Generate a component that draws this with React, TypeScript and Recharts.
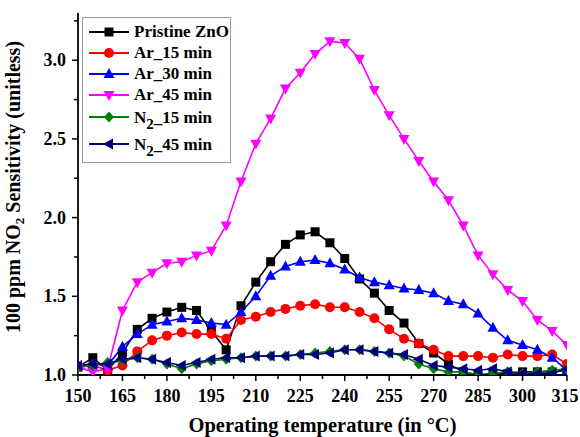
import React from "react";
import {Label, Legend, Line, LineChart, XAxis, YAxis} from "recharts";

// operating temperature (°C)
const temps = [150, 155, 160, 165, 170, 175, 180, 185, 190, 195, 200, 205, 210, 215, 220, 225, 230,
	235, 240, 245, 250, 255, 260, 265, 270, 275, 280, 285, 290, 295, 300, 305, 310, 315];

const pristine = [1.05, 1.11, 1.03, 1.14, 1.29, 1.36, 1.40, 1.43, 1.41, 1.28, 1.16, 1.44, 1.59, 1.72, 1.83, 1.89, 1.91,
	1.84, 1.74, 1.61, 1.52, 1.41, 1.33, 1.20, 1.14, 1.07, 1.02, 1.00, 1.01, 1.01, 1.02, 1.02, 1.02, 1.03];
const ar15 = [1.05, 1.06, 1.03, 1.06, 1.15, 1.22, 1.25, 1.27, 1.26, 1.26, 1.23, 1.35, 1.37, 1.40, 1.42, 1.44, 1.45,
	1.43, 1.43, 1.40, 1.36, 1.29, 1.23, 1.20, 1.16, 1.12, 1.12, 1.12, 1.11, 1.13, 1.12, 1.12, 1.13, 1.07];
const ar30 = [1.06, 1.07, 1.06, 1.18, 1.26, 1.32, 1.34, 1.36, 1.35, 1.33, 1.32, 1.40, 1.50, 1.63, 1.69, 1.72, 1.73,
	1.71, 1.67, 1.62, 1.59, 1.57, 1.55, 1.54, 1.52, 1.47, 1.45, 1.39, 1.30, 1.22, 1.19, 1.16, 1.11, 1.03];
const ar45 = [1.05, 1.02, 1.04, 1.41, 1.59, 1.65, 1.71, 1.72, 1.76, 1.79, 1.95, 2.23, 2.47, 2.63, 2.82, 2.92, 3.04,
	3.12, 3.11, 3.01, 2.81, 2.65, 2.50, 2.36, 2.23, 2.11, 1.95, 1.76, 1.64, 1.54, 1.47, 1.35, 1.28, 1.19];
const n2_15 = [1.05, 1.06, 1.08, 1.09, 1.11, 1.10, 1.07, 1.04, 1.07, 1.09, 1.10, 1.11, 1.12, 1.12, 1.12, 1.13, 1.14,
	1.15, 1.16, 1.16, 1.15, 1.14, 1.12, 1.07, 1.04, 1.02, 1.02, 1.00, 1.01, 1.02, 1.01, 1.02, 1.03, 1.04];
const n2_45 = [1.06, 1.07, 1.07, 1.10, 1.11, 1.10, 1.08, 1.06, 1.08, 1.10, 1.11, 1.11, 1.12, 1.12, 1.12, 1.13, 1.13,
	1.14, 1.16, 1.16, 1.15, 1.14, 1.13, 1.10, 1.06, 1.05, 1.04, 1.03, 1.04, 1.02, 1.01, 1.01, 1.01, 1.04];

const xTicks = [150, 157.5, 165, 172.5, 180, 187.5, 195, 202.5, 210, 217.5, 225, 232.5, 240, 247.5, 255, 262.5,
	270, 277.5, 285, 292.5, 300, 307.5, 315];
const yTicks = [1.0, 1.25, 1.5, 1.75, 2.0, 2.25, 2.5, 2.75, 3.0, 3.25];

const series = [
	{key: "pristine", name: "Pristine ZnO", color: "#000000", shape: "square", values: pristine},
	{key: "ar15", name: "Ar_15 min", color: "#ff0000", shape: "circle", values: ar15},
	{key: "ar30", name: "Ar_30 min", color: "#0000ff", shape: "up", values: ar30},
	{key: "ar45", name: "Ar_45 min", color: "#ff00ff", shape: "down", values: ar45},
	{key: "n2_15", name: "N2_15 min", color: "#008000", shape: "diamond", values: n2_15},
	{key: "n2_45", name: "N2_45 min", color: "#000080", shape: "left", values: n2_45},
];

const data = temps.map((t, i) => {
	const row: any = {temp: t};
	series.forEach(s => {
		row[s.key] = s.values[i];
	});
	return row;
});

const FONT = "'Liberation Serif', 'Times New Roman', serif";

const marker = (shape: string, color: string, cx: number, cy: number, key?: any) => {
	switch (shape) {
		case "square":
			return <rect key={key} x={cx - 4.5} y={cy - 4.5} width={9} height={9} fill={color}/>;
		case "circle":
			return <circle key={key} cx={cx} cy={cy} r={5} fill={color}/>;
		case "up":
			return <polygon key={key} points={`${cx},${cy - 6} ${cx - 5.5},${cy + 4} ${cx + 5.5},${cy + 4}`} fill={color}/>;
		case "down":
			return <polygon key={key} points={`${cx},${cy + 6} ${cx - 5.5},${cy - 4} ${cx + 5.5},${cy - 4}`} fill={color}/>;
		case "diamond":
			return <polygon key={key} points={`${cx},${cy - 5.5} ${cx + 5},${cy} ${cx},${cy + 5.5} ${cx - 5},${cy}`} fill={color}/>;
		default:
			return <polygon key={key} points={`${cx - 6},${cy} ${cx + 4},${cy - 5.5} ${cx + 4},${cy + 5.5}`} fill={color}/>;
	}
};

const makeDot = (shape: string, color: string) => (props: any) => {
	const {cx, cy, index} = props;
	if (cx == null || cy == null) return <g key={index}/>;
	return marker(shape, color, cx, cy, index);
};

const XTick = (props: any) => {
	const {x, y, payload} = props;
	const major = (payload.value - 150) % 15 === 0;
	// last label sits against the frame edge, nudge it in a little
	const dx = payload.value === 315 ? -2 : 0;
	return (
		<g>
			<line x1={x} x2={x} y1={y} y2={y + (major ? 6 : 4)} stroke="#000" strokeWidth={1.5}/>
			{major && (
				<text x={x + dx} y={y + 27} textAnchor="middle" fontFamily={FONT} fontWeight="bold" fontSize={18} fill="#000">
					{payload.value}
				</text>
			)}
		</g>
	);
};

const YTick = (props: any) => {
	const {x, y, payload} = props;
	const major = Math.abs(payload.value * 2 - Math.round(payload.value * 2)) < 1e-6;
	return (
		<g>
			<line x1={x} x2={x - (major ? 6 : 4)} y1={y} y2={y} stroke="#000" strokeWidth={1.5}/>
			{major && (
				<text x={x - 12} y={y + 6} textAnchor="end" fontFamily={FONT} fontWeight="bold" fontSize={18} fill="#000">
					{payload.value.toFixed(1)}
				</text>
			)}
		</g>
	);
};

const legendHeights = [21, 21, 21, 21, 24, 30];

const LegendBox = () => (
	<div style={{
		border: "1px solid #999",
		width: 147,
		height: 141,
		boxSizing: "content-box",
		paddingTop: 3,
		background: "#fff",
		fontFamily: FONT,
		fontWeight: "bold",
		fontSize: 17,
		color: "#000",
	}}>
		{series.map((s, i) => (
			<div key={s.key} style={{height: legendHeights[i], display: "flex", alignItems: "center", paddingLeft: 6}}>
				<svg width={40} height={14} style={{flex: "none"}}>
					<line x1={0} x2={40} y1={7} y2={7} stroke={s.color} strokeWidth={1.8}/>
					{marker(s.shape, s.color, 20, 7)}
				</svg>
				<span style={{marginLeft: 5, whiteSpace: "nowrap", lineHeight: "17px"}}>
					{s.name.startsWith("N2") ? (
						<>N<sub style={{fontSize: 15, verticalAlign: "-6px", lineHeight: 0}}>2</sub>{s.name.slice(2)}</>
					) : s.name}
				</span>
			</div>
		))}
	</div>
);

const App = () => {
	return (
		<div style={{position: "absolute", left: 0, top: 0, width: 580, height: 437}}>
			<LineChart width={580} height={437} data={data} margin={{top: 13, right: 13, left: 0, bottom: 0}}>
				<XAxis dataKey="temp" type="number" domain={[150, 315]} ticks={xTicks} interval={0}
					   height={62} tickSize={0} tickMargin={0} tick={<XTick/>} tickLine={false}
					   axisLine={{stroke: "#000", strokeWidth: 1.8}} allowDataOverflow>
					<Label content={() => (
						<text x={322.5} y={432} textAnchor="middle" fontFamily={FONT} fontWeight="bold" fontSize={20.5} fill="#000">
							Operating temperature (in °C)
						</text>
					)}/>
				</XAxis>
				<XAxis xAxisId="top" orientation="top" dataKey="temp" type="number" domain={[150, 315]} height={0}
					   tick={false} tickLine={false} axisLine={{stroke: "#000", strokeWidth: 1.8}}/>
				<YAxis type="number" domain={[1.0, 3.3]} ticks={yTicks} interval={0} width={78}
					   tickSize={0} tickMargin={0} tick={<YTick/>} tickLine={false}
					   axisLine={{stroke: "#000", strokeWidth: 1.8}} allowDataOverflow>
					<Label content={() => (
						<text x={20} y={187} transform="rotate(-90 20 187)" textAnchor="middle" fontFamily={FONT}
							  fontWeight="bold" fontSize={20} fill="#000">
							100 ppm NO<tspan fontSize={13} dy={4}>2</tspan><tspan dy={-4}> Sensitivity (unitless)</tspan>
						</text>
					)}/>
				</YAxis>
				<YAxis yAxisId="right" orientation="right" type="number" domain={[1.0, 3.3]} width={0}
					   tick={false} tickLine={false} axisLine={{stroke: "#000", strokeWidth: 1.8}}/>
				<Legend layout="vertical" align="center" verticalAlign="middle" content={() => <LegendBox/>}
						wrapperStyle={{top: 17, left: 82, width: 149, height: 145}}/>
				{series.map(s => (
					<Line key={s.key} type="linear" dataKey={s.key} name={s.name} stroke={s.color} strokeWidth={1.6}
						  dot={makeDot(s.shape, s.color)} activeDot={false} isAnimationActive={false}/>
				))}
			</LineChart>
		</div>
	);
};

export default App;
